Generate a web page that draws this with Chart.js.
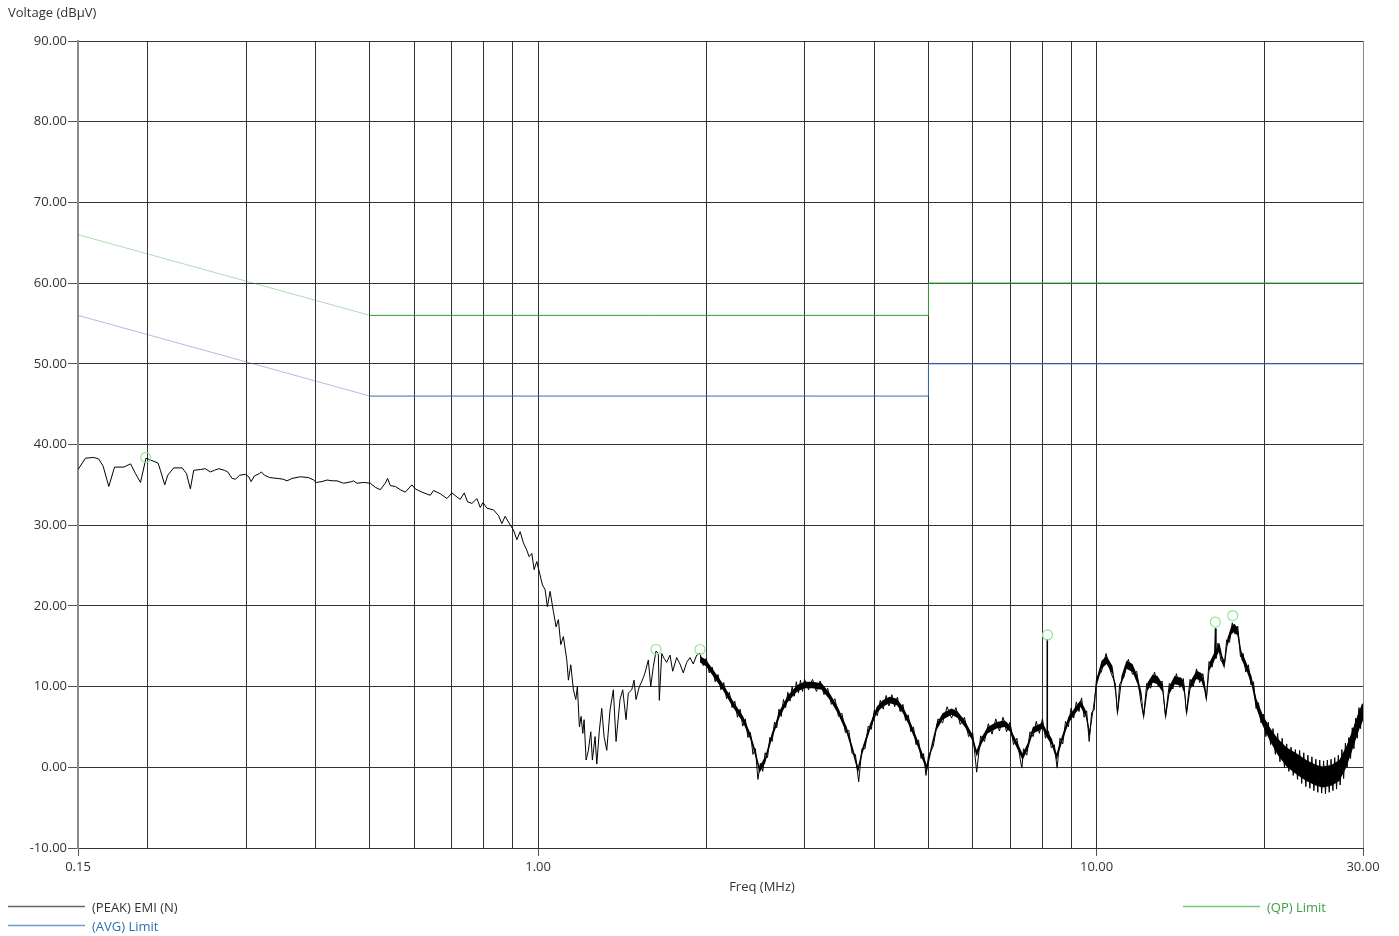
<!DOCTYPE html>
<html lang="en">
<head>
  <meta charset="UTF-8" />
  <title>EMI Conducted Emission</title>
  <script src="https://cdn.jsdelivr.net/npm/chart.js"></script>
  <style>
    html, body {
      margin: 0;
      padding: 0;
      background: #ffffff;
    }
    .wrap {
      position: relative;
      width: 1399px;
      height: 936px;
    }
  </style>
</head>
<body>
<div class="wrap">
  <canvas id="emiChart"></canvas>
</div>

<script>
  // axis text
  const yTitle = 'Voltage (dBµV)';
  const xTitle = 'Freq (MHz)';
  const xGridValues = [0.15, 0.2, 0.3, 0.4, 0.5, 0.6, 0.7, 0.8, 0.9, 1, 2, 3, 4, 5, 6, 7, 8, 9, 10, 20, 30];
  const xLabelValues = [0.15, 1, 10, 30];
  const xTickLabels = ['0.15', '1.00', '10.00', '30.00'];

  // legend
  const legendLabels = ['(PEAK) EMI (N)', '(AVG) Limit', '(QP) Limit'];

  // limit lines [MHz, dBuV]
  const qpLimit = [[0.15, 66], [0.5, 56], [5, 56], [5, 60], [30, 60]];
  const avgLimit = [[0.15, 56], [0.5, 46], [5, 46], [5, 50], [30, 50]];

  // peak markers
  const peakMarkers = [[0.1983, 38.4], [1.626, 14.6], [1.949, 14.6], [8.17, 16.4], [16.32, 18.0], [17.53, 18.8]];

  // peak trace
  const traceLow = [
    [0.150,36.9],[0.1547,38.3],[0.1601,38.4],[0.1634,38.2],[0.1664,37.3],[0.1703,34.8],[0.1744,37.2],[0.1812,37.2],
    [0.1863,37.6],[0.1901,36.4],[0.1941,35.3],[0.1985,38.3],[0.2036,38.0],[0.2087,37.7],[0.2107,36.8],[0.2145,35.0],
    [0.2172,36.2],[0.2226,37.1],[0.2305,37.1],[0.2346,36.4],[0.2384,34.5],[0.2417,36.8],[0.2484,36.9],[0.2536,37.0],
    [0.2589,36.6],[0.2632,36.8],[0.2680,37.0],[0.2744,36.8],[0.2781,36.6],[0.2832,35.8],[0.2871,35.7],[0.2922,36.2],
    [0.2992,36.3],[0.3033,36.0],[0.3063,35.4],[0.3104,36.1],[0.3169,36.4],[0.3195,36.6],[0.3235,36.2],[0.3307,35.9],
    [0.3409,35.8],[0.3494,35.7],[0.3552,35.5],[0.3626,35.8],[0.3752,36.0],[0.3882,35.9],[0.3963,35.6],[0.4007,35.3],
    [0.4102,35.4],[0.4188,35.6],[0.4275,35.5],[0.4364,35.5],[0.4484,35.2],[0.4642,35.4],[0.4673,35.5],[0.4739,35.2],
    [0.4868,35.3],[0.5006,35.2]
  ];
  const traceRolloff = [
    [0.5110,34.7],[0.5217,34.4],[0.5325,35.2],[0.5376,35.8],[0.5436,34.9],[0.5549,34.8],[0.5665,34.4],[0.5782,34.1],
    [0.5944,35.0],[0.6026,34.5],[0.6194,34.1],[0.6410,33.7],[0.6498,34.3],[0.6680,33.9],[0.6867,33.3],[0.7010,34.0],
    [0.7156,33.5],[0.7254,33.2],[0.7375,34.0],[0.7476,32.9],[0.7613,32.7],[0.7771,33.3],[0.7878,32.2],[0.7966,32.8],
    [0.8099,32.1],[0.8320,31.9],[0.8492,31.2],[0.8612,30.2],[0.8729,31.1],[0.8848,30.4],[0.9034,29.4],[0.9161,28.2],
    [0.9286,29.2],[0.9412,27.8],[0.9545,26.9],[0.9636,26.1],[0.9744,26.5],[0.9836,24.5],[0.9946,25.5],[1.0083,23.8],
    [1.0179,22.6],[1.0292,22.0],[1.0390,19.9],[1.0507,21.8],[1.0651,19.3],[1.0770,17.4],[1.0872,18.3],[1.0980,15.2],
    [1.1098,16.2],[1.1256,13.3],[1.1330,10.8],[1.1443,12.7],[1.1566,9.6],[1.1681,8.4],[1.1758,10.0],[1.1856,5.0],
    [1.1939,6.3],[1.2023,4.2],[1.2088,5.9],[1.2188,0.9],[1.2304,2.1],[1.2426,4.4],[1.2508,0.9],[1.2648,3.8],
    [1.2737,0.4],[1.2874,4.6],[1.3001,7.3],[1.3125,3.8],[1.3272,2.1],[1.3453,7.1],[1.3638,9.6],[1.3790,3.2],
    [1.4019,8.4],[1.4176,9.6],[1.4370,5.9],[1.4507,9.2],[1.4712,9.6],[1.4852,10.8],[1.4975,8.4],[1.5181,10.0],
    [1.5331,10.6],[1.5541,11.7],[1.5754,13.3],[1.5910,10.0],[1.6082,12.5],[1.6262,14.4],[1.6417,14.1],[1.6484,8.3],
    [1.6648,14.1],[1.6807,13.5],[1.6992,13.0],[1.7226,13.9],[1.7418,11.9],[1.7707,13.6],[1.7950,12.8],[1.8196,11.7],
    [1.8453,13.0],[1.8706,13.6],[1.8962,12.8],[1.9229,13.9]
  ];
  const traceMid = [
    [1.950,14.1],[1.975,12.6],[2.000,13.5],[2.025,11.7],[2.050,12.4],[2.075,10.6],[2.100,11.5],[2.125,9.6],
    [2.150,10.5],[2.175,8.5],[2.200,9.3],[2.225,7.4],[2.250,8.2],[2.275,6.2],[2.300,7.2],[2.325,5.1],
    [2.350,6.0],[2.375,3.7],[2.400,4.3],[2.425,1.6],[2.450,2.3],[2.475,-1.5],[2.500,0.5],[2.525,-0.5],
    [2.550,1.8],[2.575,1.2],[2.600,3.7],[2.625,3.2],[2.650,5.6],[2.675,4.9],[2.700,7.2],[2.725,6.3],
    [2.750,8.4],[2.775,7.4],[2.800,9.3],[2.825,8.2],[2.850,10.0],[2.875,8.8],[2.900,10.6],[2.925,9.2],
    [2.950,10.8],[2.975,9.4],
    [3.00,10.9],[3.05,9.6],[3.10,10.9],[3.15,9.4],[3.20,10.7],[3.25,9.0],[3.30,9.8],[3.35,7.8],
    [3.40,8.5],[3.45,6.3],[3.50,6.7],[3.55,4.3],[3.60,4.6],[3.65,1.7],[3.70,1.6],[3.75,-1.8],
    [3.80,2.3],[3.85,2.3],[3.90,5.1],[3.95,4.7],[4.00,7.1],[4.05,6.4],[4.10,8.3],[4.15,7.2],
    [4.20,8.9],[4.25,7.6],[4.30,9.0],[4.35,7.5],[4.40,8.7],[4.45,6.9],[4.50,7.8],[4.55,5.8],
    [4.60,6.5],[4.65,4.4],[4.70,5.0],[4.75,2.8],[4.80,3.4],[4.85,1.1],[4.90,1.7],[4.95,-1.0],
    [5.0,1.4],[5.1,2.6],[5.2,6.0],[5.3,5.5],[5.4,7.5],[5.5,6.1],[5.6,7.4],[5.7,5.3],
    [5.8,6.2],[5.9,3.8],[6.0,4.3],[6.1,-0.6],[6.2,3.9],[6.3,3.2],[6.4,5.4],[6.5,4.1],
    [6.6,6.0],[6.7,4.5],[6.8,6.2],[6.9,4.4],[7.0,5.6],[7.1,2.8],[7.2,3.6],[7.3,1.0],
    [7.35,-0.1],[7.4,2.3],[7.5,1.5],[7.6,4.4],[7.7,3.8],[7.8,5.7],[7.9,4.2],[8.0,6.0],
    [8.1,3.6],[8.15,4.3],[8.16,15.9],[8.17,4.0],[8.2,4.5],[8.3,2.4],[8.4,2.8],[8.5,-0.1],
    [8.6,3.6],[8.7,2.9],[8.8,5.7],[8.9,5.0],[9.0,7.3],[9.1,6.1],[9.2,8.1],[9.3,6.9],
    [9.4,8.6],[9.5,6.2],[9.6,7.0],[9.7,3.2],[9.8,6.8],[9.9,7.1],[10.0,11.1]
  ];
  const traceHigh = [
    [10.2,11.8],[10.4,14.1],[10.6,11.8],[10.8,10.4],[10.9,6.7],[11.0,10.3],[11.2,11.2],[11.4,13.4],
    [11.6,11.5],[11.8,11.9],[12.0,8.2],[12.14,6.3],[12.3,10.4],[12.5,9.8],[12.7,11.8],[12.9,10.0],
    [13.1,10.7],[13.29,6.3],[13.5,10.4],[13.7,9.7],[13.9,11.6],[14.1,9.9],[14.3,11.0],[14.49,6.7],
    [14.7,10.9],[14.9,10.0],[15.1,12.2],[15.3,10.5],[15.5,11.6],[15.73,8.5],[15.9,13.1],[16.1,12.4],
    [16.26,13.9],[16.32,17.2],[16.36,13.5],[16.5,15.4],[16.7,13.2],[16.94,12.7],[17.1,15.8],[17.3,15.5],
    [17.5,17.9],[17.7,16.5],[17.9,17.5],[18.1,13.7],[18.3,14.1],[18.5,11.8],[18.7,12.7],[18.9,10.2],
    [19.1,10.6],[19.3,7.3],[19.5,8.0],[19.7,5.5],[19.9,6.6],
    [20.1,3.8],[20.3,5.6],[20.5,2.8],[20.7,4.8],[20.9,1.6],[21.1,4.2],[21.3,0.7],[21.5,3.6],
    [21.7,0.0],[21.9,2.9],[22.1,-0.5],[22.3,2.5],[22.5,-1.0],[22.7,2.2],[22.9,-1.5],[23.1,2.1],
    [23.3,-2.0],[23.5,1.8],[23.7,-2.4],[23.9,1.5],[24.1,-2.6],[24.3,1.3],[24.5,-2.9],[24.7,1.0],
    [24.9,-3.1],[25.1,0.9],[25.3,-3.2],[25.5,0.8],[25.7,-3.3],[25.9,0.9],[26.1,-3.1],[26.3,1.0],
    [26.5,-2.9],[26.7,1.2],[26.9,-2.7],[27.1,1.5],[27.3,-2.2],[27.5,2.2],[27.7,-1.4],[27.9,3.0],
    [28.1,0.0],[28.3,3.7],[28.5,1.1],[28.7,4.9],[28.9,2.3],[29.1,6.1],[29.3,3.6],[29.5,7.4],
    [29.7,4.8],[29.9,7.8],[30.0,6.9]
  ];

  // solid core of the noisy part of the trace [MHz, top, bottom]
  const noiseBand = [
    [1.95,13.8,13.0],[2.0,13.3,12.5],[2.06,12.05,11.25],[2.14,10.4,9.6],[2.23,8.3,7.5],[2.33,6.3,5.5],
    [2.40,4.2,3.4],[2.45,2.1,1.3],[2.49,0.1,-0.7],[2.55,1.3,0.5],[2.62,4.2,3.4],[2.71,7.1,6.3],
    [2.80,8.9,8.1],[2.91,10.2,9.4],[3.00,10.6,9.8],[3.10,10.6,9.8],[3.22,10.4,9.6],[3.33,9.15,8.35],
    [3.44,7.5,6.7],[3.57,5.0,4.2],[3.66,2.5,1.7],[3.74,0.1,-0.7],[3.81,2.5,1.7],[3.93,5.4,4.6],
    [4.04,7.5,6.7],[4.14,8.3,7.5],[4.26,8.75,7.95],[4.39,8.5,7.7],[4.50,7.5,6.7],[4.63,5.8,5.0],
    [4.76,3.75,2.95],[4.88,1.7,0.9],[4.97,0.3,-0.5],[5.07,3.0,2.2],[5.17,5.4,4.6],[5.30,6.7,5.9],
    [5.50,7.3,6.5],[5.64,6.9,6.1],[5.81,5.8,5.0],[5.98,4.2,3.4],[6.10,2.1,1.3],[6.23,3.75,2.95],
    [6.38,5.0,4.2],[6.62,5.6,4.8],[6.85,5.8,5.0],[7.00,5.2,4.4],[7.08,4.2,3.4],[7.22,3.0,2.2],
    [7.37,1.7,0.9],[7.53,3.0,2.2],[7.69,5.0,4.2],[7.92,5.4,4.6],[8.00,5.6,4.8],[8.13,4.6,3.8],
    [8.31,3.6,2.8],[8.48,1.7,0.9],[8.66,3.75,2.95],[8.91,6.3,5.5],[9.17,7.5,6.7],[9.36,8.3,7.5],
    [9.56,7.1,6.3],[9.72,4.6,3.8],[9.88,8.0,7.2],[10.0,11.0,10.0],[10.21,13.2,12.2],[10.42,13.8,12.8],
    [10.68,12.55,11.55],[10.81,10.1,9.1],[10.90,7.2,6.2],[11.08,11.3,10.3],[11.31,13.2,12.2],[11.60,12.8,11.8],
    [11.84,11.3,10.3],[12.04,9.25,8.25],[12.14,6.8,5.8],[12.34,10.5,9.5],[12.60,11.5,10.5],[12.86,11.3,10.3],
    [13.13,10.3,9.3],[13.29,6.8,5.8],[13.51,10.1,9.1],[13.79,11.3,10.3],[14.19,11.1,10.1],[14.37,10.1,9.1],
    [14.49,7.2,6.2],[14.73,10.7,9.7],[15.10,11.95,10.95],[15.41,11.7,10.7],[15.60,10.5,9.5],[15.73,9.0,8.0],
    [15.93,13.0,12.0],[16.26,14.25,13.25],[16.60,15.4,14.4],[16.80,13.8,12.8],[16.94,13.2,12.2],[17.15,16.0,15.0],
    [17.44,17.5,16.5],[17.66,17.8,16.8],[17.88,17.3,16.3],[18.17,14.4,13.4],[18.55,13.0,12.0],[18.94,11.3,10.3],
    [19.33,8.5,7.3],[19.82,6.6,5.2],[20.39,5.0,3.4],[21.08,3.6,1.6],[21.88,2.5,0.1],[22.79,1.75,-0.85],
    [23.75,0.9,-1.7],[24.75,0.3,-2.3],[25.37,0.1,-2.5],[26.33,0.3,-2.3],[27.21,0.9,-1.7],[28.01,2.6,0.0],
    [28.71,4.55,2.15],[29.54,7.1,4.7],[30.0,8.0,5.8]
  ];

  const peakColor = '#000000';
  const avgColor = '#2f6fb4';
  const qpColor = '#2e9e2e';
  const avgSlopeColor = 'rgba(90,100,190,0.45)';
  const qpSlopeColor = 'rgba(60,160,60,0.4)';

  const toXY = arr => arr.map(p => ({ x: p[0], y: p[1] }));
  const peakTrace = [].concat(traceLow, traceRolloff, traceMid, traceHigh);
  const bandTop = noiseBand.map(p => ({ x: p[0], y: p[1] }));
  const bandBottom = noiseBand.map(p => ({ x: p[0], y: p[2] }));

  // sloped limit segments are drawn fainter
  const slopeColor = (base, faint) => c =>
    (c.p0.parsed.x !== c.p1.parsed.x && c.p0.parsed.y !== c.p1.parsed.y) ? faint : base;

  const fontFamily = '"Open Sans", "Noto Sans", sans-serif';

  // titles and legend sit outside the plot
  const framePlugin = {
    id: 'frameText',
    afterDraw(chart) {
      const c = chart.ctx;
      c.save();
      c.font = '13px ' + fontFamily;
      c.textBaseline = 'middle';
      c.fillStyle = '#333';
      c.textAlign = 'left';
      c.fillText(yTitle, 8, 13);
      c.textAlign = 'center';
      c.fillText(xTitle, 762, 887);

      const items = [
        { text: legendLabels[0], line: '#666666', color: '#333', x: 8, y: 907 },
        { text: legendLabels[1], line: '#6f9bd0', color: avgColor, x: 8, y: 926 },
        { text: legendLabels[2], line: '#7cc47c', color: '#3f9f3f', x: 1183, y: 907 }
      ];
      c.textAlign = 'left';
      items.forEach(it => {
        c.strokeStyle = it.line;
        c.lineWidth = 1.5;
        c.beginPath();
        c.moveTo(it.x, it.y - 0.5);
        c.lineTo(it.x + 77, it.y - 0.5);
        c.stroke();
        c.fillStyle = it.color;
        c.fillText(it.text, it.x + 84, it.y + 1);
      });
      c.restore();
    }
  };

  const ctx = document.getElementById('emiChart').getContext('2d');
  new Chart(ctx, {
    type: 'line',
    data: {
      datasets: [
        {
          label: 'markers',
          type: 'scatter',
          data: toXY(peakMarkers),
          showLine: false,
          pointRadius: 5,
          pointBorderWidth: 1.2,
          pointBorderColor: '#8fe88f',
          pointBackgroundColor: 'rgba(0,0,0,0)',
          order: 0
        },
        {
          label: legendLabels[0],
          data: toXY(peakTrace),
          borderColor: peakColor,
          borderWidth: 1,
          pointRadius: 0,
          tension: 0,
          order: 1
        },
        {
          label: 'band top',
          data: bandTop,
          borderWidth: 0,
          borderColor: 'rgba(0,0,0,0)',
          pointRadius: 0,
          fill: false,
          order: 2
        },
        {
          label: 'band bottom',
          data: bandBottom,
          borderWidth: 0,
          borderColor: 'rgba(0,0,0,0)',
          backgroundColor: '#000',
          pointRadius: 0,
          fill: '-1',
          order: 2
        },
        {
          label: legendLabels[1],
          data: toXY(avgLimit),
          borderColor: avgColor,
          segment: { borderColor: slopeColor(avgColor, avgSlopeColor) },
          borderWidth: 1,
          pointRadius: 0,
          order: 3
        },
        {
          label: legendLabels[2],
          data: toXY(qpLimit),
          borderColor: qpColor,
          segment: { borderColor: slopeColor(qpColor, qpSlopeColor) },
          borderWidth: 1,
          pointRadius: 0,
          order: 4
        }
      ]
    },
    options: {
      responsive: true,
      maintainAspectRatio: false,
      animation: false,
      layout: { padding: { top: 41, right: 36, left: 0, bottom: 0 } },
      plugins: {
        legend: { display: false },
        tooltip: { enabled: false }
      },
      scales: {
        x: {
          type: 'logarithmic',
          min: 0.15,
          max: 30,
          afterBuildTicks: scale => { scale.ticks = xGridValues.map(v => ({ value: v })); },
          afterFit: scale => { scale.height = 88; },
          grid: {
            color: c => (c.tick && (c.tick.value === 0.15 || c.tick.value === 30)) ? '#8a8a8a' : '#333',
            tickLength: 8,
            tickColor: c => (c.tick && xLabelValues.includes(c.tick.value)) ? '#555' : 'rgba(0,0,0,0)'
          },
          border: { color: '#333', width: 1 },
          ticks: {
            autoSkip: false,
            maxRotation: 0,
            padding: 3,
            color: '#333',
            font: { family: fontFamily, size: 13 },
            callback: v => {
              const i = xLabelValues.indexOf(v);
              return i >= 0 ? xTickLabels[i] : '';
            }
          }
        },
        y: {
          min: -10,
          max: 90,
          afterFit: scale => { scale.width = 78; },
          grid: { color: '#333', tickLength: 10, tickColor: '#555' },
          border: { color: '#8a8a8a', width: 2 },
          ticks: {
            stepSize: 10,
            padding: 1,
            color: '#333',
            font: { family: fontFamily, size: 13 },
            callback: v => v.toFixed(2)
          }
        }
      }
    },
    plugins: [framePlugin]
  });
</script>
</body>
</html>
